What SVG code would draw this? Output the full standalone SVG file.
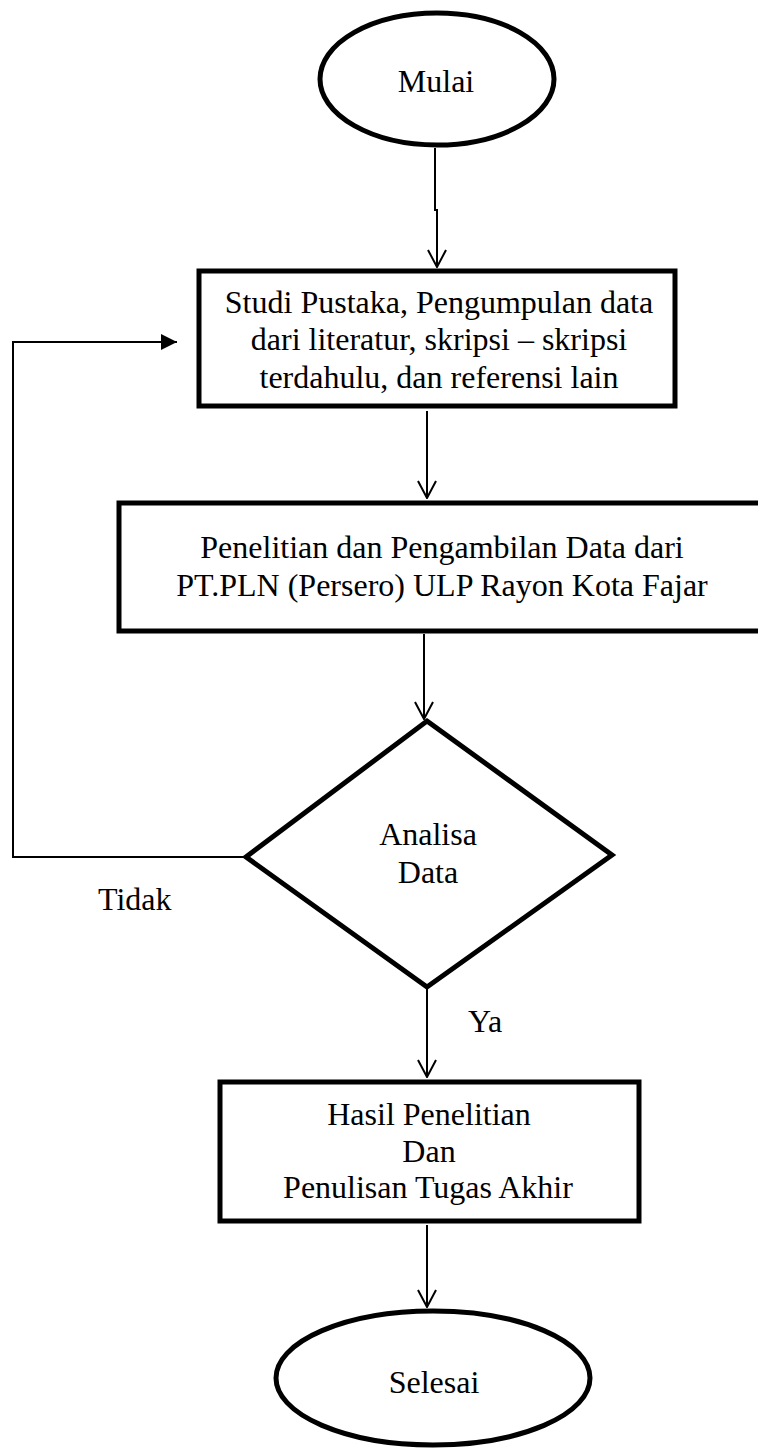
<svg xmlns="http://www.w3.org/2000/svg" width="758" height="1451" viewBox="0 0 758 1451">
<style>
.shape{fill:#fff;stroke:#000;stroke-width:5}
.conn{fill:none;stroke:#000;stroke-width:2}
.t{font-family:"Liberation Serif","Times New Roman",serif;font-size:32px;fill:#000;text-anchor:middle}
.lbl{font-family:"Liberation Serif","Times New Roman",serif;font-size:32px;fill:#000}
</style>
<defs>
<marker id="open" viewBox="0 0 20 20" refX="19" refY="10" markerWidth="20" markerHeight="20" markerUnits="userSpaceOnUse" orient="auto">
<path d="M2,1 L19,10 L2,19" fill="none" stroke="#000" stroke-width="2"/>
</marker>
<marker id="solid" viewBox="0 0 16 16" refX="16" refY="8" markerWidth="16" markerHeight="16" markerUnits="userSpaceOnUse" orient="auto">
<polygon points="0,0 16,8 0,16" fill="#000"/>
</marker>
</defs>
<rect width="758" height="1451" fill="#fff"/>
<g id="connectors">
<path class="conn" d="M435,148 V210 H437 V267" marker-end="url(#open)"/>
<path class="conn" d="M427,411 V498" marker-end="url(#open)"/>
<path class="conn" d="M424,634 V719" marker-end="url(#open)"/>
<path class="conn" d="M427,989 V1077" marker-end="url(#open)"/>
<path class="conn" d="M427,1225 V1307" marker-end="url(#open)"/>
<path class="conn" d="M245,857 H13 V342 H177" marker-end="url(#solid)"/>
<text class="lbl" x="98" y="910">Tidak</text>
<text class="lbl" x="468" y="1032">Ya</text>
</g>
<g id="mulai">
<ellipse class="shape" cx="437" cy="79" rx="117" ry="66"/>
<text class="t" x="436" y="92">Mulai</text>
</g>
<g id="studi">
<rect class="shape" x="199" y="271" width="476" height="135"/>
<text class="t" x="439" y="313">Studi Pustaka, Pengumpulan data</text>
<text class="t" x="439" y="350">dari literatur, skripsi – skripsi</text>
<text class="t" x="439" y="388">terdahulu, dan referensi lain</text>
</g>
<g id="penelitian">
<rect class="shape" x="119" y="503" width="660" height="128"/>
<text class="t" x="442" y="558">Penelitian dan Pengambilan Data dari</text>
<text class="t" x="442" y="596">PT.PLN (Persero) ULP Rayon Kota Fajar</text>
</g>
<g id="analisa">
<polygon class="shape" points="427,721 612,855 427,987 246,857"/>
<text class="t" x="428" y="845">Analisa</text>
<text class="t" x="428" y="883">Data</text>
</g>
<g id="hasil">
<rect class="shape" x="220" y="1082" width="419" height="139"/>
<text class="t" x="429" y="1125">Hasil Penelitian</text>
<text class="t" x="429" y="1162">Dan</text>
<text class="t" x="428" y="1198">Penulisan Tugas Akhir</text>
</g>
<g id="selesai">
<ellipse class="shape" cx="433" cy="1378" rx="157" ry="67"/>
<text class="t" x="434" y="1393">Selesai</text>
</g>
</svg>
